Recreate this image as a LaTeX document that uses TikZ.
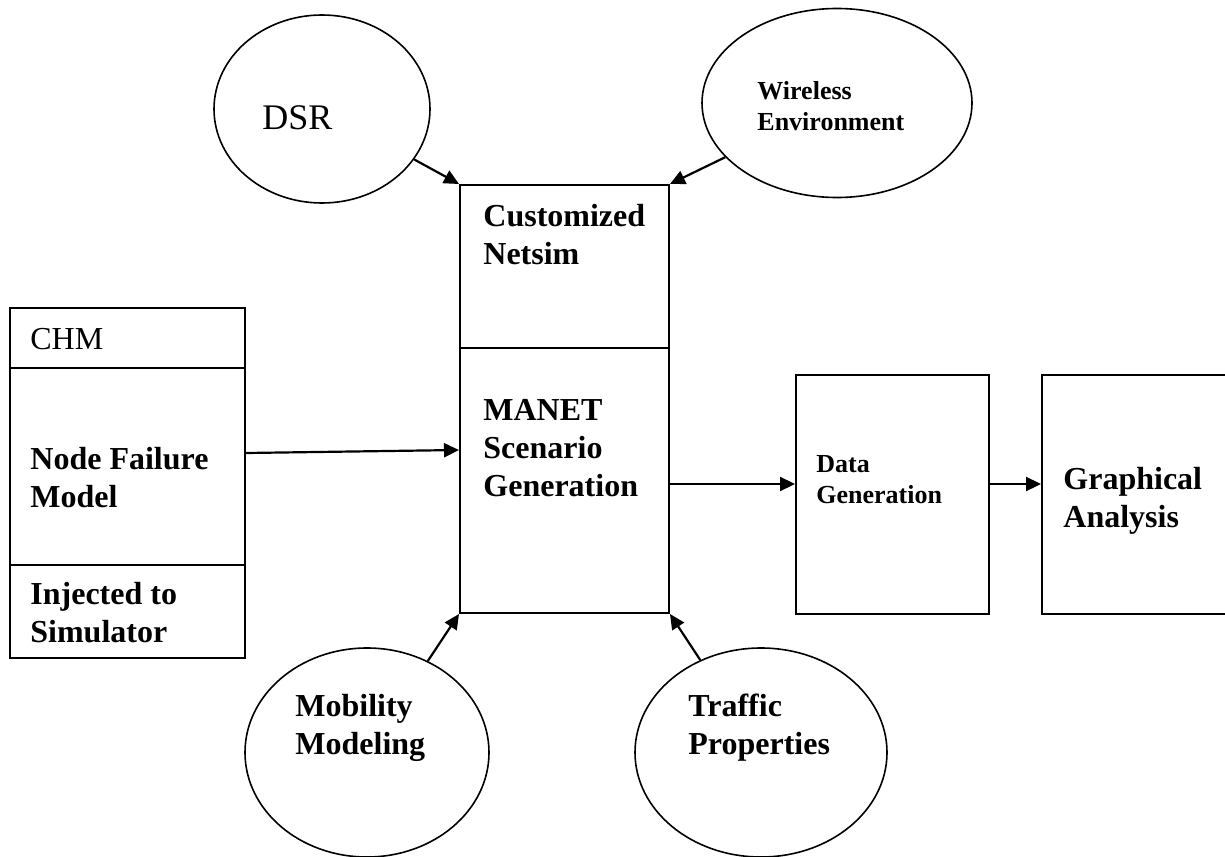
\documentclass[tikz,border=0pt]{standalone}
\usepackage{fontspec}
\setmainfont{Liberation Serif}
\usepackage{tikz}
\usetikzlibrary{shapes,arrows.meta,positioning,calc}

\newcommand{\bigrm}{\fontsize{16}{18.5}\selectfont}
\newcommand{\bigbf}{\fontsize{16}{18.8}\selectfont\bfseries}
\newcommand{\smallbf}{\fontsize{13}{15.5}\selectfont\bfseries}

\tikzset{
  bubble/.style={draw, ellipse, line width=0.8pt, inner sep=0pt},
  block/.style={draw, rectangle, line width=1pt, inner sep=0pt},
  flow/.style={-{Triangle[length=7.5pt,width=7pt]}, line width=1.1pt},
  txt/.style={anchor=base west, align=left, inner sep=0pt},
}

\begin{document}
\begin{tikzpicture}[x=0.5pt, y=-0.5pt]
    \clip (0,0) rectangle (1225,856);

    % Inputs on top
    \node [bubble, minimum width=108pt, minimum height=94pt] (dsr) at (322,109) {};
    \node [bubble, minimum width=135pt, minimum height=94.5pt] (wireless) at (837,103) {};
    \node [txt, font=\fontsize{18}{21}\selectfont] (dsr-t) at (262,129) {DSR};
    \node [txt, font=\smallbf] (wireless-t) at (757,131) {Wireless\\Environment};

    % Simulator block
    \node [block, minimum width=104.5pt, minimum height=214pt] (sim) at (564.5,399) {};
    \draw [line width=1pt] (sim.west |- 0,348) -- (sim.east |- 0,348);
    \node [txt, font=\bigbf] (netsim-t) at (483,264) {Customized\\Netsim};
    \node [txt, font=\bigbf] (manet-t) at (483,496) {MANET\\Scenario\\Generation};

    % CHM block
    \node [block, minimum width=117.5pt, minimum height=175pt] (chm) at (127.5,483) {};
    \draw [line width=1pt] (chm.west |- 0,368) -- (chm.east |- 0,368);
    \draw [line width=1pt] (chm.west |- 0,565) -- (chm.east |- 0,565);
    \node [txt, font=\bigrm] (chm-t) at (30,349) {CHM};
    \node [txt, font=\bigbf] (fail-t) at (30,507) {Node Failure\\Model};
    \node [txt, font=\bigbf] (inject-t) at (30,642) {Injected to\\Simulator};

    % Output blocks
    \node [block, minimum width=96.5pt, minimum height=119.5pt] (data) at (892.5,494.5) {};
    \node [block, minimum width=99pt, minimum height=119.5pt] (graph) at (1141,494.5) {};
    \node [txt, font=\smallbf] (data-t) at (816,503) {Data\\Generation};
    \node [txt, font=\bigbf] (graph-t) at (1063,527) {Graphical\\Analysis};

    % Inputs below
    \node [bubble, minimum width=122pt, minimum height=104.5pt] (mobility) at (367,752.5) {};
    \node [bubble, minimum width=126pt, minimum height=104.5pt] (traffic) at (761,752.5) {};
    \node [txt, font=\bigbf] (mobility-t) at (295,754) {Mobility\\Modeling};
    \node [txt, font=\bigbf] (traffic-t) at (688,754) {Traffic\\Properties};

    % Arrows
    \draw [flow] (dsr) -- (sim.north west);
    \draw [flow] (wireless) -- (sim.north east);
    \draw [flow] (mobility) -- (sim.south west);
    \draw [flow] (traffic) -- (sim.south east);
    \draw [flow] (chm.east |- 0,453) -- (sim.west |- 0,450);
    \draw [flow] (sim.east |- 0,484) -- (data.west |- 0,484);
    \draw [flow] (data.east |- 0,484) -- (graph.west |- 0,484);
\end{tikzpicture}
\end{document}
